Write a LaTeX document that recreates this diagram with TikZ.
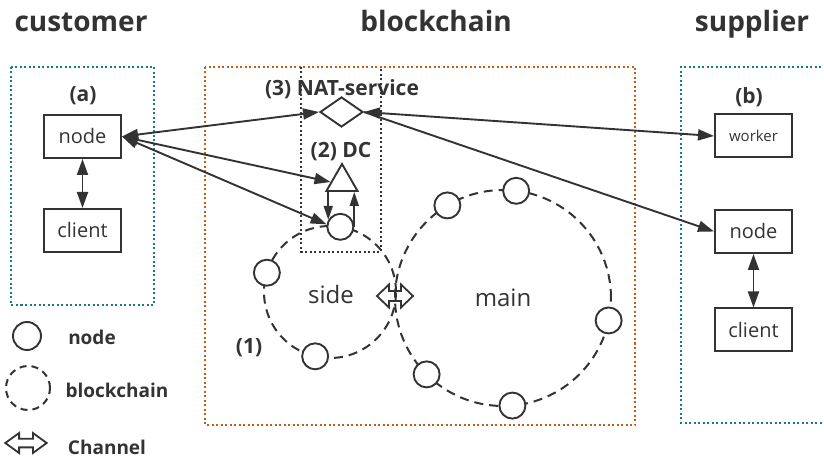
\documentclass[tikz,border=0pt]{standalone}
\usepackage{fontspec}
\setmainfont{Open Sans}
\usetikzlibrary{arrows.meta,shapes.geometric}

\definecolor{ink}{HTML}{333333}
\definecolor{tealdot}{RGB}{24,124,124}
\definecolor{orangedot}{RGB}{191,96,24}

\begin{document}
\begin{tikzpicture}[x=1pt,y=1pt,>={Triangle[length=16pt,width=11pt]},
  box/.style={draw=ink,line width=2pt,minimum width=77pt,minimum height=43pt,
    text=ink,font=\fontsize{20}{23}\selectfont},
  peer/.style={circle,draw=ink,fill=white,line width=1.9pt,minimum size=26pt,inner sep=0pt},
  ring/.style={draw=ink,line width=2pt,dash pattern=on 9pt off 6pt},
  dots/.style={line width=2.2pt,dash pattern=on 2pt off 2.5pt},
  link/.style={draw=ink,line width=1.9pt},
  lbl/.style={text=ink,font=\fontsize{21}{24}\selectfont\bfseries},
  key/.style={text=ink,font=\fontsize{19}{22}\selectfont\bfseries},
  head/.style={text=ink,font=\fontsize{28}{32}\selectfont\bfseries,anchor=base},
  chan/.pic={\draw[ink,line width=1.8pt,line join=miter]
    (-18,0) -- (-6,11.5) -- (-6,5) -- (6,5) -- (6,11.5) -- (18,0)
    -- (6,-11.5) -- (6,-5) -- (-6,-5) -- (-6,-11.5) -- cycle;}]
  \useasboundingbox (0,0) rectangle (824,463);

  % titles
  \node[head] (tcust) at (81,431) {customer};
  \node[head] (tchain) at (436,431) {blockchain};
  \node[head] (tsupp) at (752,431) {supplier};

  % customer
  \draw[dots,draw=tealdot] (11,396) rectangle (154,158);
  \node[lbl] (lbla) at (83,367) {(a)};
  \node[box] (nodeA) at (82.5,326.5) {node};
  \node[box] (clientA) at (82.5,232.5) {client};
  \draw[link,<->] (nodeA) -- (clientA);

  % blockchain
  \draw[dots,draw=orangedot] (205,396) rectangle (635,38);
  \draw[dots,draw=ink] (301,396) -- (301,211) -- (381,211) -- (381,396);
  \node[lbl] (lblnat) at (342,374) {(3) NAT-service};
  \node[diamond,draw=ink,line width=1.9pt,minimum width=43pt,minimum height=30pt,
    inner sep=0pt] (nat) at (341.5,351) {};
  \node[lbl] (lbldc) at (341,311) {(2) DC};
  \node[regular polygon,regular polygon sides=3,draw=ink,line width=1.9pt,
    minimum size=36pt,inner sep=0pt] (dc) at (342,281) {};

  \coordinate (cside) at (330,171);
  \coordinate (cmain) at (503,165);
  \draw[ring] (cside) circle (66);
  \draw[ring] (cmain) circle (108);
  \pic at (395,167) {chan};
  \foreach \a [count=\i] in {81,163,257}
    \node[peer] (side\i) at ([shift={(\a:66)}]cside) {};
  \foreach \a [count=\i] in {121,83,348,225,275}
    \node[peer] (main\i) at ([shift={(\a:108)}]cmain) {};
  \node[text=ink,font=\fontsize{24}{28}\selectfont] (tside) at (331,168) {side};
  \node[text=ink,font=\fontsize{24}{28}\selectfont] (tmain) at (503,165) {main};
  \node[lbl] (lbl1) at (249,115) {(1)};

  \draw[link,->,>={Triangle[length=14pt,width=9pt]}] (dc.south -| side1.150) -- (side1.150);
  \draw[link,->,>={Triangle[length=14pt,width=9pt]}] (side1.east) -- (dc.south -| side1.east);

  \draw[link,<->] (nodeA.east) -- (nat.west);
  \draw[link,<->] (nodeA.east) -- (dc.west);
  \draw[link,<->] (nodeA.east) -- (side1.170);

  % supplier
  \draw[dots,draw=tealdot] (830,396) -- (681,396) -- (681,40) -- (830,40);
  \node[lbl] (lblb) at (749,366) {(b)};
  \node[box,font=\fontsize{15}{18}\selectfont] (worker) at (753.5,327) {worker};
  \node[box] (nodeB) at (753.5,231.5) {node};
  \node[box] (clientB) at (753.5,133) {client};
  \draw[link,<->] (nodeB) -- (clientB);
  \draw[link,<->] (nat.east) -- (worker.west);
  \draw[link,->] (nat.east) -- (nodeB.west);

  % legend
  \node[peer,minimum size=28pt] (lgnode) at (27,127) {};
  \node[key] (lgnodet) at (92,126) {node};
  \draw[ring,dash pattern=on 7pt off 5pt] (28,75) circle (22);
  \node[key] (lgbc) at (117,73) {blockchain};
  \pic[xscale=1.15,yscale=0.87] at (26,20) {chan};
  \node[key] (lgchan) at (107,16) {Channel};
\end{tikzpicture}
\end{document}
